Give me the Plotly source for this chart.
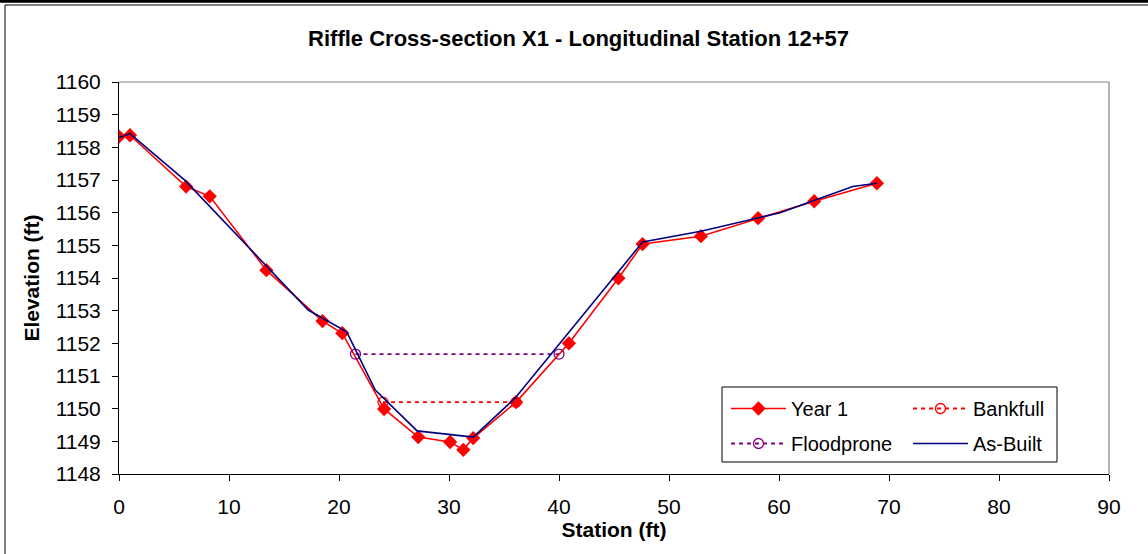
import plotly.graph_objects as go

# Year 1 survey
y1_station = [0.0, 1.0, 6.1, 8.25, 13.4, 18.5, 20.3, 24.1, 27.2, 30.1, 31.3, 32.2, 36.1, 40.9, 45.4, 47.6, 52.9, 58.1, 63.2, 68.9]
y1_elev = [1158.33, 1158.37, 1156.8, 1156.5, 1154.24, 1152.68, 1152.31, 1149.99, 1149.13, 1148.98, 1148.74, 1149.1, 1150.2, 1152.0, 1153.99, 1155.04, 1155.28, 1155.83, 1156.35, 1156.9]

# Bankfull
bf_station = [24.0, 36.1]
bf_elev = [1150.2, 1150.2]

# Floodprone
fp_station = [21.5, 40.0]
fp_elev = [1151.67, 1151.67]

# As-built
ab_station = [0.0, 1.0, 6.0, 17.2, 20.7, 23.3, 27.1, 32.2, 36.0, 47.6, 52.9, 60.1, 66.7, 68.9]
ab_elev = [1158.3, 1158.42, 1156.99, 1153.02, 1152.35, 1150.57, 1149.32, 1149.13, 1150.32, 1155.1, 1155.43, 1156.0, 1156.8, 1156.9]

x_ticks = list(range(0, 91, 10))
y_ticks = list(range(1148, 1161, 1))

FONT = "Liberation Sans, Arial, sans-serif"

fig = go.Figure()
fig.add_trace(go.Scatter(x=y1_station, y=y1_elev, mode="lines+markers", name="Year 1",
                         legend="legend", legendgroup="a",
                         line=dict(color="#FF0000", width=1.6),
                         marker=dict(symbol="diamond", size=11, color="#FF0000")))
fig.add_trace(go.Scatter(x=bf_station, y=bf_elev, mode="lines+markers", name="Bankfull",
                         legend="legend2", legendgroup="b",
                         line=dict(color="#FF0000", width=1.8, dash="4px,4px"),
                         marker=dict(symbol="circle-open", size=10, color="#FF0000", line=dict(width=1.3))))
fig.add_trace(go.Scatter(x=fp_station, y=fp_elev, mode="lines+markers", name="Floodprone",
                         legend="legend", legendgroup="c",
                         line=dict(color="#800080", width=1.8, dash="4px,4px"),
                         marker=dict(symbol="circle-open", size=10, color="#800080", line=dict(width=1.3))))
fig.add_trace(go.Scatter(x=ab_station, y=ab_elev, mode="lines", name="As-Built",
                         legend="legend2", legendgroup="d",
                         line=dict(color="#000080", width=1.6)))

W, H = 1148, 554
L, R, T, B = 119, 39, 82, 80
pw, ph = W - L - R, H - T - B

def px(xp):
    return (xp - L) / pw

def py(yp):
    return (H - B - yp) / ph

shapes = [
    # plot area top and right borders (gray)
    dict(type="line", xref="paper", yref="paper", x0=0, x1=1, y0=1, y1=1, line=dict(color="#808080", width=1.2)),
    dict(type="line", xref="paper", yref="paper", x0=1, x1=1, y0=0, y1=1, line=dict(color="#808080", width=1.2)),
    # legend box
    dict(type="rect", xref="paper", yref="paper", x0=px(722), x1=px(1057), y0=py(462), y1=py(387),
         line=dict(color="black", width=1), fillcolor="white", layer="above"),
    # outer chart frame
    dict(type="line", xref="paper", yref="paper", x0=px(0), x1=px(W), y0=py(1.2), y1=py(1.2), line=dict(color="black", width=3)),
    dict(type="line", xref="paper", yref="paper", x0=px(5), x1=px(W), y0=py(5), y1=py(5), line=dict(color="black", width=1)),
    dict(type="line", xref="paper", yref="paper", x0=px(5), x1=px(5), y0=py(5), y1=py(H), line=dict(color="black", width=1)),
]

leg_common = dict(xanchor="left", yanchor="top", bgcolor="rgba(0,0,0,0)", borderwidth=0,
                  font=dict(size=20, family=FONT, color="black"), tracegroupgap=6,
                  orientation="v", itemwidth=55)

fig.update_layout(
    width=W, height=H,
    margin=dict(l=L, r=R, t=T, b=B),
    paper_bgcolor="white", plot_bgcolor="white",
    font=dict(family=FONT, color="black", size=21),
    title=dict(text="<b>Riffle Cross-section X1 - Longitudinal Station 12+57</b>",
               x=0.504, xanchor="center", y=1 - 38 / H, yanchor="middle",
               font=dict(family=FONT, size=22, color="black")),
    xaxis=dict(range=[0, 90], tickvals=x_ticks, ticks="outside", ticklen=6, tickcolor="black",
               showline=True, linecolor="black", linewidth=1, showgrid=False, zeroline=False,
               tickfont=dict(size=21), ticklabelstandoff=8,
               title=dict(text="<b>Station (ft)</b>", font=dict(size=21), standoff=2)),
    yaxis=dict(range=[1148, 1160], tickvals=y_ticks, ticks="outside", ticklen=6, tickcolor="black",
               showline=True, linecolor="black", linewidth=1, showgrid=False, zeroline=False,
               tickfont=dict(size=21), ticklabelstandoff=7,
               title=dict(text="<b>Elevation (ft)</b>", font=dict(size=21), standoff=10)),
    legend=dict(x=px(726), y=py(389), **leg_common),
    legend2=dict(x=px(908), y=py(389), **leg_common),
    shapes=shapes,
    showlegend=True,
)

fig.write_html("out.html", config={"displayModeBar": False},
               post_script="document.body.style.margin='0';")
